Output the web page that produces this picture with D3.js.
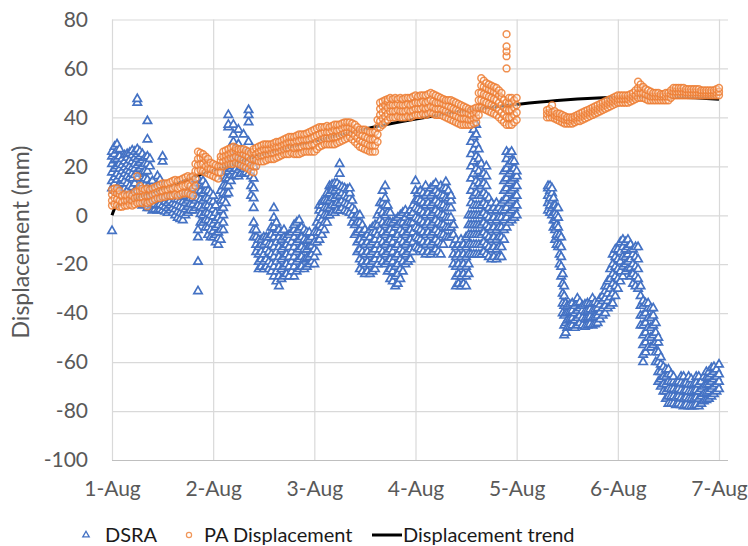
<!DOCTYPE html>
<html><head><meta charset="utf-8">
<script src="https://cdn.jsdelivr.net/npm/d3@7"></script>
<style>body{margin:0;background:#fff} svg{display:block}</style>
</head><body>
<svg id="c" width="748" height="546"></svg>
<script>
// ---------- DATA ----------
const xTickLabels = ["1-Aug","2-Aug","3-Aug","4-Aug","5-Aug","6-Aug","7-Aug"];
const xTickDays = [0,1,2,3,4,5,6];
const yTicks = [-100,-80,-60,-40,-20,0,20,40,60,80];
const seriesNames = ["DSRA","PA Displacement","Displacement trend"];

// DSRA: [day offset from 1-Aug 00:00, readings (mm)...]
const dsra = [
[0.000,-6.4,11,14,17.5,21,24,26],[0.025,10,13,15.5,19,22.5,25,28],[0.050,11,14.5,17,20,23,26.5,29],
[0.075,10,12.5,16,19,21,24,27],[0.100,10.5,13,15,18,20.5,23],[0.125,11,14,17,19.5,22,24.5],
[0.150,10,13,16,18.5,21,23.5,25],[0.175,12,15.5,18,20,22.5,25.5],[0.200,9,11.5,15,17,19.5,22,24.5,26.5],
[0.225,10,13,16.5,19,21,23.5,26],[0.250,10,15,18,20.5,23,25,27,46,47.5],[0.275,8,12,17,19,21.5,24,26],
[0.300,4,7,10,13,17.5,20,22.5,25],[0.325,5,9,12,15,18,21,23.5],[0.350,3,5.5,8,11,14.5,18,21,24,31,38.5],
[0.375,3,5,7.5,10,13,20,23],[0.400,2,4,6,8,10,12.5,14],[0.425,2.5,4.5,6.5,8.5,11],
[0.450,2,4,6,8,16],[0.475,2.5,4.5,7,13.5,14.5],[0.500,2,4,6.5,22,24],
[0.525,1.5,3.5,5.5,7.5],[0.550,1,3,5,7],[0.575,2,4,6,8],[0.600,1,3,5,7.5],
[0.625,0,2.5,4.5,6.5],[0.650,-1,1.5,4,6.5],[0.675,-1.5,1,3.5,6],[0.700,-2,0.5,3,5.5,7.5],
[0.725,0,2.5,5,8],[0.750,1,3.5,6,9,10],[0.775,2,4.5,7,9.5],[0.800,2,4.5,7,9.5,11],
[0.825,3,6,9,12,14.5],[0.850,-31,-19,-9,-6,4,7,10,13,15],[0.875,-3,0.5,3.5,6.5,10,13],
[0.900,-3,0,3,6,9,12,14],[0.925,-5,-2,1,4,7,10,12.5],[0.950,-8,-5,-2,1,4,7,10],
[0.975,-9,-6,-3,0,3,6,9],[1.000,-9,-6.5,-3.5,-0.5,2.5,5.5,8],[1.025,-11,-8,-5,-2,1,4],
[1.050,-12,-9.5,-7,-4,-1],[1.075,-10,-6,-2,2,6,10],[1.100,-6,-3,0,3,6,9,12,16],
[1.125,5,8.5,12,15,18,20],[1.150,9,12,15,18,21,36,37,41],[1.175,14,16.5,19,21.5,23.5],
[1.200,16,18,20,22,24,30,33,37],[1.225,16.5,19,21.5,24],[1.250,16,18.5,21,23.5,29,35],
[1.275,17,19.5,22,24.5],[1.300,17,19,21.5,24,25,33],[1.325,17.5,20,22.5,25],
[1.350,17,19.5,22,24.5,30,38,41,43],[1.375,8,12,16,20,23],[1.400,-9,-6,-3,3,7,11,15,20],
[1.425,-15,-12,-9,-6],[1.450,-22,-19,-16,-13,-10],[1.475,-21,-18,-15,-12,-10],
[1.500,-22,-19,-16,-12,-9],[1.525,-21,-18,-14,-11,-9],[1.550,-22,-19,-15,-12,-9],
[1.575,-23,-20,-16,-12,-8,-5],[1.600,-25,-21,-17,-13,-9,-5,-1,3],[1.625,-27,-23,-19,-15,-11,-7,-3],
[1.650,-29,-25,-21,-17,-13,-9,-6],[1.675,-26,-22,-18,-14,-10,-7],[1.700,-25,-21,-17,-13,-9,-6],
[1.725,-24,-20,-16,-12,-9],[1.750,-25,-21,-17,-13,-10,-8],[1.775,-23,-19,-15,-11,-7],
[1.800,-25,-21,-17,-13,-9,-6,-4],[1.825,-23,-19,-15,-11,-7,-3],[1.850,-22,-18,-14,-10,-6,-2],
[1.875,-21,-17,-13,-9,-5],[1.900,-22,-18,-14,-10,-6],[1.925,-21,-17.5,-14,-10.5,-7],
[1.950,-20,-17,-13,-10,-7],[1.975,-19,-16,-12.5,-9],[2.000,-20,-17,-14,-11,-7],
[2.025,-15,-11,-7,-3],[2.050,-10,-7,-4,-1,2,4],[2.075,-8,-5,-2,1,4,5.5],
[2.100,-6,-3,0,3,6],[2.125,-3,0,3,6,9],[2.150,0,3,6,9,12],
[2.175,1,4,7,10,12.5],[2.200,1,4,7,10,13],[2.225,2,5,8,11,13],
[2.250,2,5,8,10,12,17,21],[2.275,3,6,9,11.5],[2.300,2,5,8,11],
[2.325,1.5,4.5,7.5,10.5],[2.350,1,4,7,9,11],[2.375,-3,0,3,6],
[2.400,-8,-4,-1,2],[2.425,-15,-11,-7,-3,0],[2.450,-22,-18,-14,-10,-6,-3,0],
[2.475,-23,-19,-15,-11,-7,-4],[2.500,-24,-20,-16,-12,-9,-6],[2.525,-23,-19,-15,-11,-8],
[2.550,-24,-20,-16,-12,-9,-6],[2.575,-23,-19,-15,-11,-7,-5],[2.600,-22,-18,-14,-10,-7,-4],
[2.625,-20,-16,-12,-8,-4,0],[2.650,-18,-14,-10,-6,-2,2,5],[2.675,-19,-15,-11,-7,-3,1,5,10],
[2.700,-20,-16,-12,-8,-4,0,4,7,12],[2.725,-23,-19,-15,-11,-7,-3,1,4],[2.750,-26,-22,-18,-14,-10,-6,-3,1],
[2.775,-27,-23,-19,-15,-11,-7,-3],[2.800,-29,-25,-21,-17,-13,-9,-5,-2],[2.825,-28,-24,-20,-16,-12,-8,-4,-1],
[2.850,-26,-22,-18,-14,-10,-6,-3,0],[2.875,-23,-19,-15,-11,-7,-3,1],[2.900,-20,-16,-12,-8,-4,-1,2],
[2.925,-19,-15,-11,-7,-3,0.5],[2.950,-18,-14,-10,-6,-3,0,2],[2.975,-15,-11,-7,-3,1,4],
[3.000,-13,-9,-5,-1,3,6,10,14],[3.025,-13.5,-9.5,-5.5,-1.5,2.5,6.5,9],[3.050,-14,-10,-6,-2,2,6,10],
[3.075,-15,-11,-7,-3,1,5,9],[3.100,-16,-12,-8,-4,0,4,8,12],[3.125,-15,-11,-7,-3,1,5,9],
[3.150,-16,-12,-8,-4,0,4,8,11],[3.175,-15,-11,-7,-3,1,5,9,12],[3.200,-14,-10,-6,-2,2,6,10,13],
[3.225,-15,-11,-7,-3,1,5,9],[3.250,-16,-12,-8,-4,0,4,8,12],[3.275,-12,-8,-4,0,4,8,11],
[3.300,-9,-5,-1,3,7,11,13.6],[3.325,-9,-5,-1,3,7,10],[3.350,-9,-5,-1,3,6,8],
[3.375,-20,-16,-12,-8,-4],[3.400,-29,-25,-21,-17,-13,-10],[3.425,-28,-24,-20,-16,-12],
[3.450,-29,-25,-21,-17,-13,-10],[3.475,-28,-24,-20,-16,-12],[3.500,-29,-25,-21,-17,-13,-9],
[3.525,-24,-20,-16,-12,-8,-4,0],[3.550,-16,-12,-8,-4,0,5,10,15,20,25,30],
[3.575,-16,-12,-8,-4,0,4,8,12,17,22,27,32,35],[3.600,-16,-12,-8,-4,0,4,9,14,19,24,29,33,37],
[3.625,-16,-12,-8,-4,0,4,8,13,18,23,27],[3.650,-16,-12,-8,-4,0,4,8,12,16,21],
[3.675,-15,-11,-7,-3,1,5,9,13,17],[3.700,-16,-12,-8,-4,0,4,8,12,16,20],
[3.725,-17,-13,-9,-5,-1,3,7],[3.750,-18,-14,-10,-6,-2,2,5],[3.775,-17,-13,-9,-5,-1,3],
[3.800,-18,-14,-10,-6,-2,2,5],[3.825,-17,-13,-9,-5,-1,3],[3.850,-17,-13,-9,-5,-1,2,5],
[3.875,-10,-6,-2,2,6,10,14,18],[3.900,-5,-1,3,7,11,15,19,23,26],[3.925,-3,1,5,9,13,17,21,25],
[3.950,-2,2,6,10,14,18,22,26],[3.975,-1,3,7,11,15,19,22],[4.000,0,4,8,12,16,18],
[4.310,2,5,8,11,12],[4.330,1,4,7,10,12],[4.350,0,3,6,9,11],[4.365,-5,-2,1,4,7],
[4.380,-10,-6,-2,1,4],[4.395,-12,-8,-4,0,3],[4.410,-13,-9,-5,-1,3],[4.425,-20,-16,-12,-8],
[4.440,-25,-21,-17,-13,-9],[4.455,-40,-36,-32,-28,-24],[4.470,-49,-45,-41,-37,-33,-29],
[4.485,-48,-44,-40,-36],[4.500,-46,-43,-40,-37],[4.525,-45.5,-42.5,-39.5,-36.5],
[4.550,-45,-42,-39,-36],[4.575,-46,-43,-40,-37],[4.600,-45,-42,-39,-36,-34],
[4.625,-44,-41,-38,-35.5],[4.650,-45,-42,-39,-37],[4.675,-45.5,-42.5,-39.5,-36.5],
[4.700,-45,-42,-39,-36],[4.725,-44.5,-41.5,-38.5,-36],[4.750,-45,-42,-39,-36,-34],
[4.775,-44.5,-41.5,-38.5,-35.5],[4.800,-44,-41,-38,-36],[4.825,-42.5,-39.5,-36.5,-34],
[4.850,-41,-38,-35,-33],[4.875,-40,-37,-34,-31,-29],[4.900,-38,-35,-32,-29,-27],
[4.925,-37,-33.5,-30,-26,-22],[4.950,-36,-32,-28,-24,-20,-16],[4.975,-33,-29,-25,-21,-17,-14],
[5.000,-30,-26,-22,-18,-14],[5.025,-27,-23,-19,-15,-11],[5.050,-25,-21,-17,-13,-10],
[5.075,-23,-20,-17,-14,-11],[5.100,-22,-19,-16,-13,-10],[5.125,-25,-21.5,-18,-14.5,-12],
[5.150,-28,-24,-20,-16,-14],[5.175,-29,-25,-21,-17,-13],[5.200,-30,-26,-22,-18,-13],
[5.225,-45,-41,-37,-33,-29],[5.250,-60,-57,-53,-49,-45,-41,-37,-35],[5.275,-56,-52,-48,-44,-40,-36],
[5.300,-54,-50,-46,-42,-38,-36],[5.325,-54,-50,-46,-42,-38],[5.350,-53,-49,-45,-41,-38],
[5.375,-60,-56,-52,-48,-44],[5.400,-68,-64,-60,-56,-52,-50],[5.425,-70,-67,-64,-61,-58],
[5.450,-72,-69,-66,-62],[5.475,-75,-72,-69,-66,-63],[5.500,-77,-74,-71,-68,-65,-63],
[5.525,-77,-74,-71,-68,-65],[5.550,-77,-74,-71,-68,-66],[5.575,-77.5,-74.5,-71.5,-68.5],
[5.600,-77,-74,-71,-68],[5.625,-77.5,-74.5,-71.5,-68.5,-66],[5.650,-78,-75,-72,-69,-66],
[5.675,-77.5,-74.5,-71.5,-68.5],[5.700,-78,-75,-72,-69,-66],[5.725,-78,-75,-72,-69,-67],
[5.750,-78,-75,-72,-69],[5.775,-77.5,-74.5,-71.5,-68.5,-66],[5.800,-78,-75,-72,-69,-66],
[5.825,-77,-74,-71,-68],[5.850,-76,-73,-70,-66],[5.875,-75.5,-72.5,-69.5,-66.5,-64],
[5.900,-75,-72,-69,-66,-64],[5.925,-74,-71,-68,-65,-62.5],[5.950,-73,-70,-67,-64,-62],
[5.975,-72,-69,-66,-63],[6.000,-71,-68,-65,-61]
];

// PA Displacement: [day offset, readings (mm)...]
const pa = [
[0.000,4,6,8.5,10.5],[0.025,4.5,7,9.5,11],[0.050,4,6.5,9,11],[0.075,3.5,6,8.5,10],
[0.100,3.5,5.5,8],[0.125,4,6,8.5],[0.150,4,6,8],[0.175,4.5,6.5,8.5],[0.200,4,6,8],
[0.225,4.5,7,9.5],[0.250,5,7.5,10,16],[0.275,5,7.5,10,12],[0.300,5,7.5,10,11],
[0.325,5.5,8,10.5],[0.350,3.7,5,8,11],[0.375,5.5,8,10.5],[0.400,6,8.5,11],
[0.425,6.5,9,11.5],[0.450,7,9.5,12],[0.475,7,10,12.5],[0.500,7.5,10,13],
[0.525,7.5,10.5,13],[0.550,8,10.5,13],[0.575,8,11,13.5],[0.600,8,11,14],
[0.625,8.5,11.5,14.5],[0.650,8,11,14],[0.675,8.5,11.5,14.5],[0.700,9,12,15],
[0.725,9,12,15.5],[0.750,9,12.5,16],[0.775,8.5,12,15.5],[0.800,8,11,14,16],
[0.825,12,15,18,21],[0.850,18,20.5,23,26],[0.875,18.5,21,23.5,25.5],[0.900,18,21,23.5,25],
[0.925,17.5,20,22.5,24],[0.950,17,19,21,23],[0.975,16.5,19,21.5],[1.000,16,18.5,21],
[1.025,15.5,18,20.5],[1.050,15,17.5,20],[1.075,17.5,20,22.5,24],[1.100,20,22,24,26],
[1.125,20.5,22.5,24.5,26.5],[1.150,21,23,25,27],[1.175,21,23.5,25.5,27.5],[1.200,21,23.5,26,28],
[1.225,21.5,24,26.5,27.5],[1.250,21,23.5,26,27],[1.275,20.5,23,25.5,27],[1.300,20,22.5,25,27],
[1.325,19.5,22,24.5,26.5],[1.350,19,21.5,24,26],[1.375,18,20.5,23,25.5],[1.400,17.5,20,23,26,27],
[1.425,20,22.5,25,27.5],[1.450,22,24,26,28],[1.475,22,24.5,26.5,28.5],[1.500,22,24.5,27,29],
[1.525,22.5,25,27,29],[1.550,23,25,27,29],[1.575,23,25.5,27.5,29],[1.600,23,25.5,28,29.5],
[1.625,23.5,26,28,30],[1.650,24,26,28,30],[1.675,24.5,26.5,28.5,30.5],[1.700,25,27,29,31],
[1.725,25,27.5,29.5,31.5],[1.750,25,27.5,30,32],[1.775,25.5,28,30,32],[1.800,25,27.5,30,32],
[1.825,25,28,30.5,32.5],[1.850,25,28,30.5,33],[1.875,25.5,28,31,33],[1.900,26,28.5,31,33],
[1.925,26,28.5,31,33.5],[1.950,26,28.5,31,34],[1.975,26,29,31.5,34.5],[2.000,26,29,32,35],
[2.025,27,30,32.5,35.5],[2.050,28,30.5,33,36],[2.075,28.5,31,33.5,36],[2.100,29,31.5,34,36],
[2.125,29,31.5,34,36.5],[2.150,29,31.5,34,36],[2.175,29,32,34.5,36.5],[2.200,29,32,35,37],
[2.225,29.5,32,34.5,37],[2.250,30,32.5,35,37],[2.275,30.5,33,35.5,37.5],[2.300,31,33.5,36,38],
[2.325,31.5,34,36,38],[2.350,32,34,36,38],[2.375,31,33.5,35.5,37.5],[2.400,30,32.5,35,37],
[2.425,29,31.5,34,36],[2.450,28,30.5,33,35],[2.475,27.5,30,32.5,35],[2.500,27,29.5,32,35],
[2.525,26.5,29,31.5,34.5],[2.550,26,28.5,31,34],[2.575,26,28.5,31,34],[2.600,26,28.5,31,34],
[2.625,30,33,36,39],[2.650,36,38.5,41,43.5,46],[2.675,37,39.5,42,44.5,46.5],[2.700,38,40.5,43,45,47],
[2.725,39,41.5,44,46.5,47.5],[2.750,40,42.5,45,48],[2.775,40,42.5,45,47.5],[2.800,40,42.5,45,48],
[2.825,40.5,43,45.5,47.5],[2.850,40,42.5,45,48],[2.875,40,42.5,45,47.5],[2.900,40,42.5,45,48],
[2.925,40.5,43,45.5,48],[2.950,40,42.5,45,48],[2.975,40.5,43,45.5,48.5],[3.000,41,43.5,46,49],
[3.025,41,43.5,46,48.5],[3.050,41,43.5,46,49],[3.075,41.5,44,46.5,49],[3.100,41,43.5,46,49],
[3.125,41.5,44,46.5,49.5],[3.150,42,44.5,47,50],[3.175,41.5,44,46.5,49.5],[3.200,41,43.5,46,49],
[3.225,41,43.5,46,48.5],[3.250,41,43.5,46,48],[3.275,40.5,43,45.5,47.5],[3.300,40,42.5,45,47],
[3.325,39.5,42,44.5,47],[3.350,39,41.5,44,47],[3.375,38.5,41,43.5,46.5],[3.400,38,40.5,43,46],
[3.425,37.5,40,42.5,45.5],[3.450,37,39.5,42,45],[3.475,37,39.5,42,44.5],[3.500,37,39.5,42,44],
[3.525,37,39,41.5,43.5],[3.550,37,39,41,43],[3.575,37.5,39.5,41.5,43.5],[3.600,38,40,42,44],
[3.625,41,44,47,50],[3.650,44,47,50,53,56],[3.675,43.5,46.5,49.5,52.5,55],[3.700,43,46,49,52,54],
[3.725,42.5,45.5,48.5,51.5,53.5],[3.750,42,45,48,51,53],[3.775,41.5,44.5,47.5,50.5,52.5],
[3.800,41,44,47,50,52],[3.825,40,43,46,49,51],[3.850,39,42,45,48,50],[3.875,38,41,44,47],
[3.900,37,40,43,46,60,65,67,69,74],[3.925,37,40,43,46,48],[3.950,37,40,43,46,48],
[3.975,38,41,44,47],[4.000,39,42,45,48],
[4.300,40,41.5,43],[4.325,40,42,43.5],[4.350,40,42,45],[4.375,39.5,41,42.5],[4.400,39,40.5,41.6],
[4.425,38.5,40,41.5],[4.450,38,39.5,41],[4.475,37.5,39,40.5],[4.500,37.5,39,40],[4.525,37.5,38.5,40],
[4.550,37.5,39,40],[4.575,38,39.5,40.5],[4.600,38.5,40,41],[4.625,38.5,40,41.5],[4.650,39,40.5,42],
[4.675,39.5,41,42.5],[4.700,40,41.5,43],[4.725,40.5,42,43.5],[4.750,41,42.5,44],[4.775,41.5,43,44.5],
[4.800,42,43.5,45],[4.825,42.5,44,45.5],[4.850,43,44.5,46],[4.875,43.5,45,46.5],[4.900,44,45.5,47],
[4.925,44.5,46,47.5],[4.950,45,46.5,48],[4.975,45.5,47,48.5],[5.000,46,47.5,49],[5.025,46,47.5,49],
[5.050,46,47.5,49],[5.075,46,47.5,49],[5.100,46,47.5,49],[5.125,46.5,48,49.5],[5.150,47,48.5,50],
[5.175,47.5,49,51],[5.200,48,50,52,54.6],[5.225,48,50,52,53.5],[5.250,48,50,52.5],[5.275,47.5,49.5,51.5],
[5.300,47,49,51],[5.325,47,48.5,50.5],[5.350,47,48.5,50],[5.375,47,48.5,50],[5.400,47,48.5,50],
[5.425,47,48.5,49.5],[5.450,47,48.5,49.5],[5.475,47,48.5,50],[5.500,47,48.5,50],[5.525,48,49.5,51],
[5.550,49,50.5,52],[5.575,49,50.5,52],[5.600,49,50.5,52],[5.625,49,50.5,52],[5.650,49,50.5,52],
[5.675,49,50.2,51.5],[5.700,49,50.2,51.5],[5.725,49,50.2,51.5],[5.750,49,50.2,51.5],[5.775,49,50.2,51.5],
[5.800,49,50.2,51.5],[5.825,49,50,51],[5.850,49,50,51],[5.875,49,50,51],[5.900,49,50,51],
[5.925,49,50,51],[5.950,49,50,51],[5.975,49,50.2,51.5],[6.000,49,50.5,52]
];

// Displacement trend
const trendT = [0,0.03,0.1,0.3,0.6,0.9,1.2,1.5,1.8,2.1,2.4,2.8,3.2,3.6,4.0,4.4,4.8,5.2,5.6,6.0];
const trendV = [0,3,4.6,8,12.3,17,21,25,28.3,31.3,34.3,37.8,40.8,43.4,45.3,46.9,47.9,48.3,48.2,47.4];

// ---------- CHART ----------
const FONT = "Lato, 'Open Sans', sans-serif";
const svg = d3.select("#c");
const L = 112, R = 719, T = 19.5, B = 460;
const x = d3.scaleLinear().domain([0,6]).range([L,R]);
const y = d3.scaleLinear().domain([-100,80]).range([B,T]);

const gy = svg.append("g").attr("transform",`translate(${L},0)`)
  .call(d3.axisLeft(y).tickValues(yTicks).tickSize(-(R-L+9)).tickPadding(24).tickFormat(d=>String(d)));
gy.select(".domain").remove();
gy.selectAll("line").attr("stroke",d=>d===-100?"#bfbfbf":"#d9d9d9").attr("stroke-width",1.2);
gy.selectAll("text").attr("fill","#595959").style("font-family",FONT).style("font-size","21px");

const gx = svg.append("g").attr("transform",`translate(0,${B})`)
  .call(d3.axisBottom(x).tickValues(xTickDays).tickSize(-(B-T)).tickPadding(21).tickFormat((d,i)=>xTickLabels[i]));
gx.select(".domain").remove();
gx.selectAll("line").attr("stroke","#d9d9d9").attr("stroke-width",1.2);
gx.selectAll("text").attr("fill","#595959").style("font-family",FONT).style("font-size","21px");

svg.append("text").attr("transform","translate(29,242) rotate(-90)")
  .attr("text-anchor","middle").attr("fill","#595959")
  .style("font-family",FONT).style("font-size","23px").text("Displacement (mm)");

const dsraPts = dsra.flatMap(r => r.slice(1).map(v => ({t:r[0], v})));
const tri = d3.symbol().type(d3.symbolTriangle).size(30);
svg.append("g").selectAll("path").data(dsraPts).join("path")
  .attr("d", tri)
  .attr("transform", d=>`translate(${x(d.t)},${y(d.v)})`)
  .attr("fill","#fff").attr("stroke","#4472C4").attr("stroke-width",1.7);

const trend = trendT.map((t,i)=>({t, v:trendV[i]}));
svg.append("path").datum(trend)
  .attr("d", d3.line().x(d=>x(d.t)).y(d=>y(d.v)).curve(d3.curveMonotoneX))
  .attr("fill","none").attr("stroke","#000").attr("stroke-width",3);

const paPts = pa.flatMap(r => r.slice(1).map(v => ({t:r[0], v})));
svg.append("g").selectAll("circle").data(paPts).join("circle")
  .attr("cx", d=>x(d.t)).attr("cy", d=>y(d.v)).attr("r",3.4)
  .attr("fill","#fff").attr("fill-opacity",0.3)
  .attr("stroke","#ED7D31").attr("stroke-opacity",0.85).attr("stroke-width",1.5);

const lg = svg.append("g").style("font-family",FONT).style("font-size","20px");
const ly = 535;
lg.append("path").attr("d", d3.symbol().type(d3.symbolTriangle).size(18)())
  .attr("transform",`translate(86,${ly})`).attr("fill","#fff").attr("stroke","#4472C4").attr("stroke-width",1.3);
lg.append("text").attr("x",105).attr("y",ly+7).attr("fill","#1a1a1a").text(seriesNames[0]);
lg.append("circle").attr("cx",189).attr("cy",ly).attr("r",2.6)
  .attr("fill","#fff").attr("stroke","#ED7D31").attr("stroke-opacity",0.8).attr("stroke-width",1.2);
lg.append("text").attr("x",204).attr("y",ly+7).attr("fill","#1a1a1a").text(seriesNames[1]);
lg.append("line").attr("x1",372).attr("x2",402).attr("y1",ly).attr("y2",ly).attr("stroke","#000").attr("stroke-width",3);
lg.append("text").attr("x",403).attr("y",ly+7).attr("fill","#1a1a1a").text(seriesNames[2]);
</script>
</body></html>
